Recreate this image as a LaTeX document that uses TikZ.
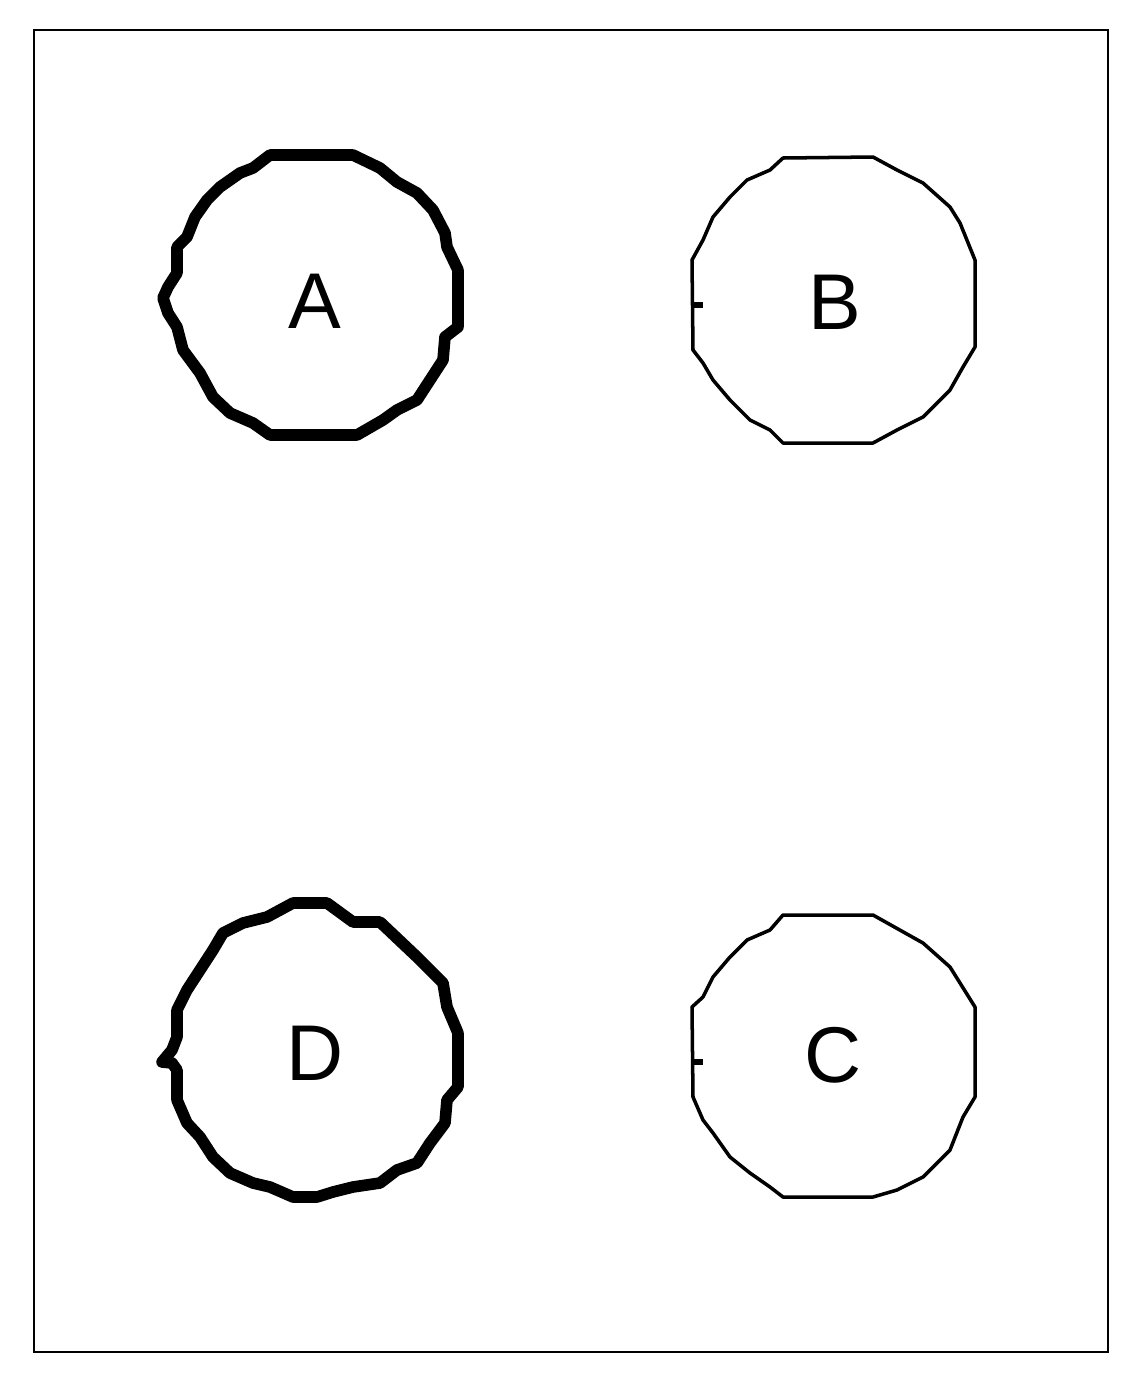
\documentclass[tikz,border=0pt]{standalone}
\usepackage{fontspec}
\setmainfont{Liberation Sans}
\begin{document}
\begin{tikzpicture}[x=0.02cm,y=-0.02cm,
  frame/.style={draw=black,line width=1.3pt},
  wobbly/.style={draw=black,line width=6.6pt,line join=round},
  thinring/.style={draw=black,line width=2pt,line join=round},
  tick/.style={draw=black,line width=3.6pt},
  lbl/.style={font=\fontsize{45}{48}\selectfont,inner sep=0pt}]
\useasboundingbox (0,0) rectangle (1136,1384);
\fill[white] (0,0) rectangle (1136,1384);
\draw[frame] (34,30) rectangle (1108,1352);
% A
\draw[wobbly] (270,155) -- (353,155) -- (380,168) -- (397,182) -- (417,193) -- (433,210) -- (445,233) -- (447,247) -- (458,270) -- (458,300) -- (458,327) -- (445,337) -- (443,360) -- (430,380) -- (417,400) -- (397,410) -- (383,420) -- (357,435) -- (270,435) -- (253,423) -- (230,413) -- (213,397) -- (200,373) -- (183,350) -- (177,327) -- (168,313) -- (163,298) -- (168,287) -- (177,273) -- (177,247) -- (187,237) -- (195,217) -- (207,200) -- (220,187) -- (240,173) -- (253,168) -- cycle;
\node[lbl] (A) at (315,301) {A};
% B
\draw[thinring] (783,158) -- (873,157) -- (897,170) -- (923,183) -- (950,207) -- (960,223) -- (975,260) -- (975,347) -- (963,367) -- (950,390) -- (923,417) -- (897,430) -- (873,443) -- (783,443) -- (770,430) -- (750,420) -- (730,400) -- (713,380) -- (703,363) -- (693,350) -- (692,260) -- (703,240) -- (713,217) -- (730,197) -- (747,180) -- (770,170) -- cycle;
\draw[tick] (693,305) -- (703,305);
\node[lbl] (B) at (835,302) {B};
% C
\draw[thinring] (783,915) -- (873,915) -- (923,943) -- (950,967) -- (960,983) -- (975,1007) -- (975,1097) -- (963,1117) -- (950,1150) -- (923,1177) -- (897,1190) -- (873,1197) -- (783,1197) -- (770,1187) -- (750,1173) -- (730,1157) -- (713,1133) -- (703,1120) -- (693,1097) -- (692,1007) -- (703,997) -- (713,977) -- (730,957) -- (747,940) -- (770,930) -- cycle;
\draw[tick] (693,1062) -- (703,1062);
\node[lbl] (C) at (833,1055) {C};
% D
\draw[wobbly] (293,903) -- (327,903) -- (353,922) -- (380,922) -- (417,957) -- (443,983) -- (447,1007) -- (458,1033) -- (458,1087) -- (447,1100) -- (445,1123) -- (430,1143) -- (417,1163) -- (397,1170) -- (380,1183) -- (353,1187) -- (333,1192) -- (317,1197) -- (293,1197) -- (270,1187) -- (253,1183) -- (230,1173) -- (213,1157) -- (200,1137) -- (187,1123) -- (177,1100) -- (177,1070) -- (172,1063) -- (162,1062) -- (172,1050) -- (177,1037) -- (177,1010) -- (187,990) -- (200,970) -- (213,950) -- (223,933) -- (243,923) -- (267,917) -- cycle;
\node[lbl] (D) at (315,1053) {D};
\end{tikzpicture}
\end{document}
